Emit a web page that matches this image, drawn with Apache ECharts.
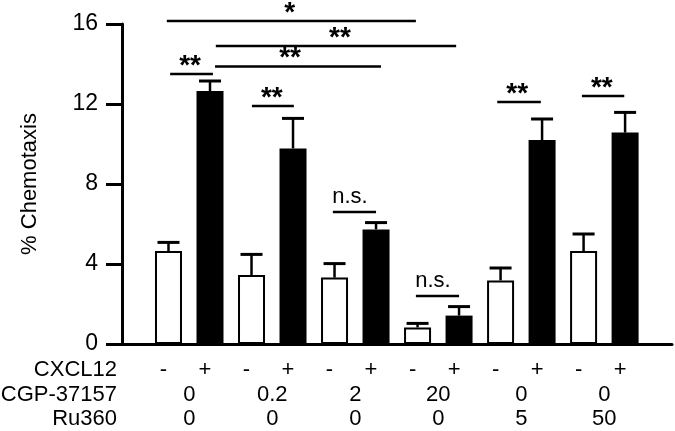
<!DOCTYPE html>
<html>
<head>
<meta charset="utf-8">
<script src="https://cdn.jsdelivr.net/npm/echarts@6/dist/echarts.min.js"></script>
<style>
  html, body { margin: 0; padding: 0; background: #fff; }
  #chart { width: 675px; height: 431px; }
</style>
</head>
<body>
<div id="chart"></div>
<script>
// bar index 0..11, pairs of (- / +) per condition
const cxcl12 = ["-", "+", "-", "+", "-", "+", "-", "+", "-", "+", "-", "+"];
const means = [4.65, 12.65, 3.45, 9.78, 3.32, 5.73, 0.83, 1.42, 3.18, 10.2, 4.65, 10.57];
const upper = [5.08, 13.15, 4.48, 11.28, 4.02, 6.07, 1.03, 1.87, 3.8, 11.25, 5.5, 11.58];

const cgp = ["0", "0.2", "2", "20", "0", "0"];
const ru360 = ["0", "0", "0", "0", "5", "50"];
const rowTitles = ["CXCL12", "CGP-37157", "Ru360"];

const yTicks = [0, 4, 8, 12, 16];

// significance brackets: from, to, height, label position, label
const sigFrom = [-0.04, 1.14, 1.12, 0.04, 2.01, 3.96, 5.96, 7.92, 9.96];
const sigTo = [5.96, 6.93, 5.12, 1.07, 3.02, 5.0, 7.0, 8.97, 10.98];
const sigY = [16.15, 14.9, 13.87, 13.5, 11.9, 6.6, 2.4, 12.1, 12.4];
const sigLabelX = [2.92, 4.13, 2.93, 0.52, 2.49, 4.37, 6.37, 8.4, 10.44];
const sigLabel = ["*", "**", "**", "**", "**", "n.s.", "n.s.", "**", "**"];

const X_MIN = -1.12;
const X_MAX = 12.13;
const FONT = "Liberation Sans, Arial, sans-serif";
const rowOffsets = [26, 51, 75];

const chart = echarts.init(document.getElementById("chart"));

const barData = means.map((v, i) => ({
  value: [i, v],
  itemStyle: cxcl12[i] === "+"
    ? { color: "#000", borderWidth: 0 }
    : { color: "#fff", borderColor: "#000", borderWidth: 2 },
}));

const errData = means.map((v, i) => [i, v, upper[i]]);
const sigData = sigFrom.map((x, i) => [x, sigTo[i], sigY[i], sigLabelX[i]]);

const tableData = [];
cxcl12.forEach((t, i) => tableData.push([i, 0, t, "v"]));
cgp.forEach((t, g) => tableData.push([2 * g + 0.5, 1, t, "v"]));
ru360.forEach((t, g) => tableData.push([2 * g + 0.5, 2, t, "v"]));
rowTitles.forEach((t, r) => tableData.push([X_MIN, r, t, "title"]));

chart.setOption({
  animation: false,
  grid: { left: 122, right: 3, top: 24, bottom: 87 },
  xAxis: {
    type: "value",
    min: X_MIN,
    max: X_MAX,
    axisLine: { show: true, lineStyle: { color: "#000", width: 3 } },
    axisTick: { show: false },
    axisLabel: { show: false },
    splitLine: { show: false },
  },
  yAxis: {
    type: "value",
    min: yTicks[0],
    max: yTicks[yTicks.length - 1],
    interval: 4,
    name: "% Chemotaxis",
    nameLocation: "middle",
    nameGap: 81,
    nameMoveOverlap: false,
    nameTextStyle: { fontFamily: FONT, fontSize: 22, color: "#000" },
    axisLine: { show: true, onZero: false, lineStyle: { color: "#000", width: 3 } },
    axisTick: { show: true, length: 16, lineStyle: { color: "#000", width: 3 } },
    axisLabel: { margin: 24, fontFamily: FONT, fontSize: 23, color: "#000" },
    splitLine: { show: false },
  },
  series: [
    {
      type: "bar",
      barWidth: 27,
      data: barData,
      z: 3,
    },
    {
      type: "custom",
      clip: false,
      z: 2,
      data: errData,
      renderItem: (params, api) => {
        const base = api.coord([api.value(0), api.value(1)]);
        const top = api.coord([api.value(0), api.value(2)]);
        return {
          type: "group",
          children: [
            { type: "line", shape: { x1: base[0], y1: base[1], x2: top[0], y2: top[1] },
              style: { stroke: "#000", lineWidth: 2.5 } },
            { type: "line", shape: { x1: top[0] - 11, y1: top[1], x2: top[0] + 11, y2: top[1] },
              style: { stroke: "#000", lineWidth: 3 } },
          ],
        };
      },
    },
    {
      type: "custom",
      clip: false,
      z: 4,
      data: sigData,
      renderItem: (params, api) => {
        const a = api.coord([api.value(0), api.value(2)]);
        const b = api.coord([api.value(1), api.value(2)]);
        const lx = api.coord([api.value(3), api.value(2)])[0];
        const label = sigLabel[params.dataIndex];
        const star = label !== "n.s.";
        return {
          type: "group",
          children: [
            { type: "line", shape: { x1: a[0], y1: a[1], x2: b[0], y2: b[1] },
              style: { stroke: "#000", lineWidth: 2.5 } },
            { type: "text",
              style: {
                text: label,
                x: lx,
                y: star ? a[1] - 8 : a[1] - 15,
                textAlign: "center",
                textVerticalAlign: "middle",
                font: star ? "bold 28px " + FONT : "22px " + FONT,
                fill: "#000",
              } },
          ],
        };
      },
    },
    {
      type: "custom",
      clip: false,
      z: 4,
      data: tableData,
      renderItem: (params, api) => {
        const item = tableData[params.dataIndex];
        const row = item[1];
        const p = api.coord([item[0], 0]);
        const isTitle = item[3] === "title";
        return {
          type: "text",
          style: {
            text: item[2],
            x: isTitle ? p[0] - 5 : (row === 0 ? p[0] - 5 : p[0]),
            y: p[1] + rowOffsets[row],
            textAlign: isTitle ? "right" : "center",
            textVerticalAlign: "middle",
            font: "22px " + FONT,
            fill: "#000",
          },
        };
      },
    },
  ],
});
</script>
</body>
</html>
